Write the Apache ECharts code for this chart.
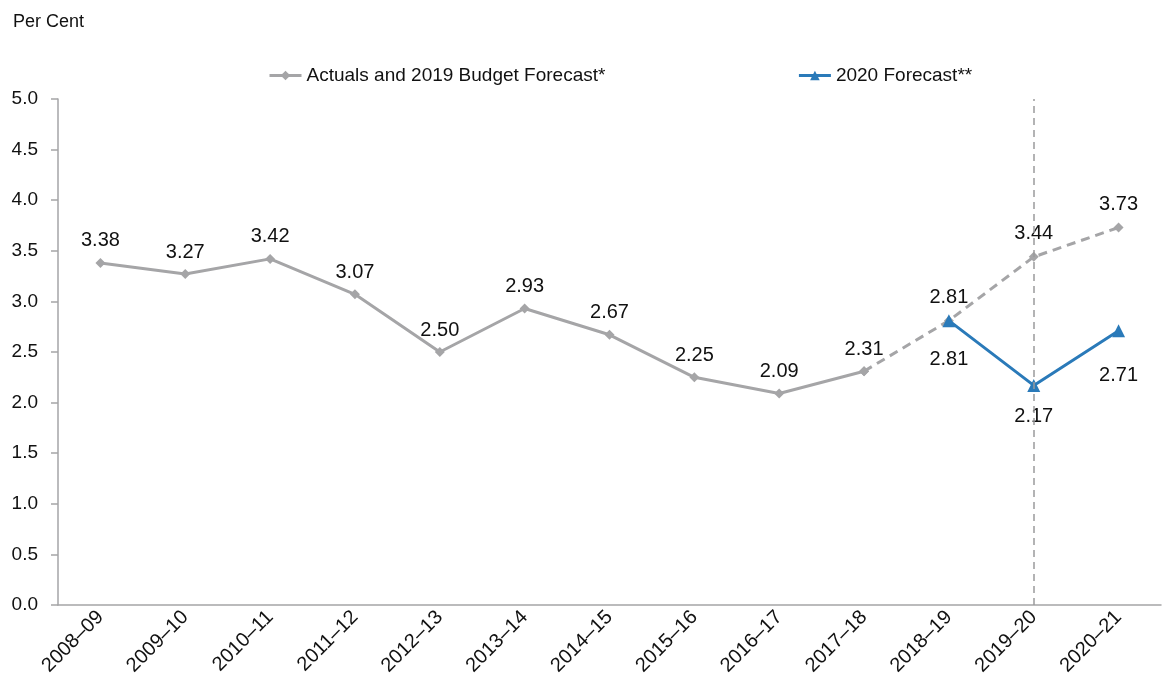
<!DOCTYPE html>
<html>
<head>
<meta charset="utf-8">
<script src="https://cdn.jsdelivr.net/npm/echarts@6/dist/echarts.min.js"></script>
<style>
  html, body { margin: 0; padding: 0; background: #fff; }
  #chart { width: 1173px; height: 692px; }
</style>
</head>
<body>
<div id="chart"></div>
<script>
// Financial years on the category axis
const years = ['2008–09', '2009–10', '2010–11', '2011–12', '2012–13', '2013–14', '2014–15',
               '2015–16', '2016–17', '2017–18', '2018–19', '2019–20', '2020–21'];

// Actual outcomes (solid grey line)
const actuals = [3.38, 3.27, 3.42, 3.07, 2.50, 2.93, 2.67, 2.25, 2.09, 2.31, null, null, null];

// 2019 Budget forecast years (dashed grey line), joined to the last actual
const budget2019 = [null, null, null, null, null, null, null, null, null, 2.31, 2.81, 3.44, 3.73];

// 2020 forecast (blue line)
const forecast2020 = [null, null, null, null, null, null, null, null, null, null, 2.81, 2.17, 2.71];

// Y axis range
const yMin = 0, yMax = 5, yStep = 0.5;

const FONT = "'Liberation Sans', Arial, sans-serif";
const GREY = '#a5a5a7';
const BLUE = '#2a7ab9';

const chart = echarts.init(document.getElementById('chart'), null, { renderer: 'canvas' });

// the first dashed point duplicates the last actual, so its label is hidden
const budgetData = budget2019.map((v, i) =>
  (i === 9 ? { value: v, label: { show: false } } : v));

// label spacing below the blue markers, per year
const blueLabelGap = { 10: 22, 11: 15, 12: 28 };
const forecastData = forecast2020.map((v, i) =>
  (v == null ? v : { value: v, label: { distance: blueLabelGap[i] || 20 } }));

chart.setOption({
  animation: false,
  backgroundColor: '#fff',
  textStyle: { fontFamily: FONT },
  title: {
    text: 'Per Cent',
    left: 8, top: 8,
    textStyle: { fontFamily: FONT, fontSize: 18, fontWeight: 'normal', color: '#111' }
  },
  legend: {
    left: 263, top: 61,
    itemWidth: 32, itemHeight: 12,
    itemGap: 192,
    lineStyle: { width: 3 },
    textStyle: { fontFamily: FONT, fontSize: 19, color: '#111' },
    data: ['Actuals and 2019 Budget Forecast*', '2020 Forecast**']
  },
  grid: { left: 58, right: 12, top: 99, bottom: 87, containLabel: false },
  xAxis: {
    type: 'category',
    data: years,
    boundaryGap: true,
    axisLine: { lineStyle: { color: GREY, width: 1.5 } },
    axisTick: { alignWithLabel: true, length: 6, lineStyle: { color: GREY, width: 1.5 } },
    axisLabel: {
      rotate: 45, fontFamily: FONT, fontSize: 20, color: '#111', margin: 9, interval: 0
    },
    splitLine: { show: false }
  },
  yAxis: {
    type: 'value',
    min: yMin, max: yMax, interval: yStep,
    axisLine: { show: true, lineStyle: { color: GREY, width: 1.5 } },
    axisTick: { show: true, length: 7, lineStyle: { color: GREY, width: 1.5 } },
    axisLabel: {
      fontFamily: FONT, fontSize: 19, color: '#111', margin: 20,
      formatter: v => v.toFixed(1)
    },
    splitLine: { show: false }
  },
  series: [
    {
      name: 'Actuals and 2019 Budget Forecast*',
      type: 'line',
      data: actuals,
      connectNulls: false,
      symbol: 'diamond', symbolSize: 10,
      lineStyle: { color: GREY, width: 3 },
      itemStyle: { color: GREY },
      label: {
        show: true, position: 'top', distance: 7,
        fontFamily: FONT, fontSize: 20, color: '#111',
        formatter: p => p.value.toFixed(2)
      },
      z: 2
    },
    {
      name: 'Actuals and 2019 Budget Forecast*',
      type: 'line',
      data: budgetData,
      symbol: 'diamond', symbolSize: 10,
      lineStyle: { color: GREY, width: 3, type: [9, 6] },
      itemStyle: { color: GREY },
      label: {
        show: true, position: 'top', distance: 8,
        fontFamily: FONT, fontSize: 20, color: '#111',
        formatter: p => Number(p.value).toFixed(2)
      },
      markLine: {
        silent: true,
        symbol: 'none',
        label: { show: false },
        lineStyle: { color: '#9a9a9c', width: 1.5, type: [7, 5] },
        data: [{ xAxis: '2019–20' }]
      },
      z: 2
    },
    {
      name: '2020 Forecast**',
      type: 'line',
      data: forecastData,
      symbol: 'triangle', symbolSize: 13,
      lineStyle: { color: BLUE, width: 3 },
      itemStyle: { color: BLUE },
      label: {
        show: true, position: 'bottom', distance: 20,
        fontFamily: FONT, fontSize: 20, color: '#111',
        formatter: p => p.value.toFixed(2)
      },
      z: 3
    }
  ]
});
</script>
</body>
</html>
